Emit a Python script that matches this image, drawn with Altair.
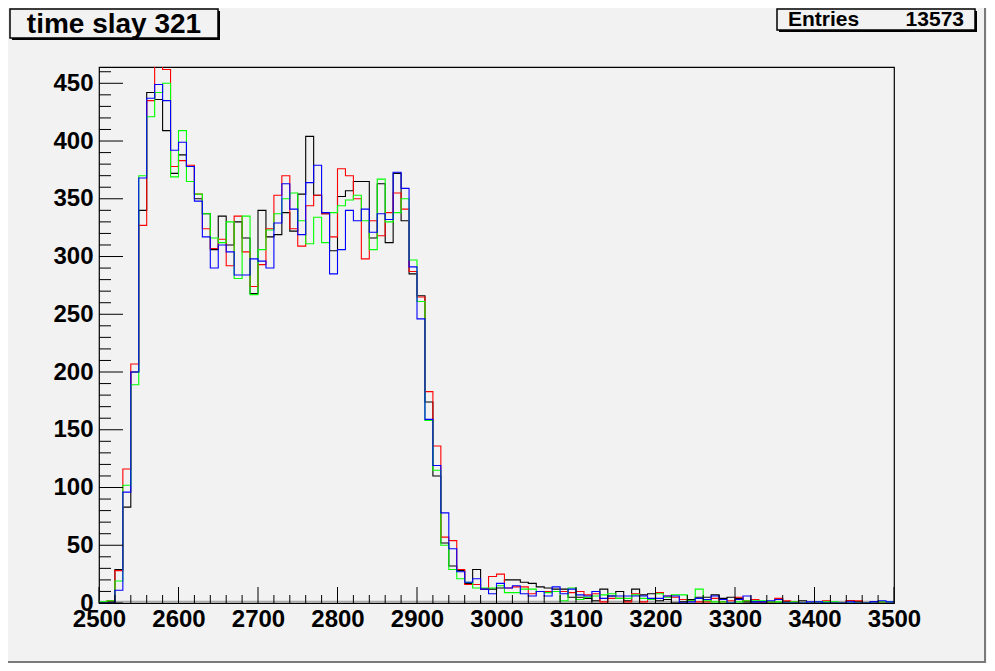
import altair as alt
import pandas as pd

# bin layout of the histograms (lower edge of first bin, bin width, number of bins)
x_start = 2500
bin_width = 10
n_bins = 100

black = [0, 1, 29, 83, 200, 340, 442, 436, 409, 372,
         388, 378, 350, 337, 306, 335, 310, 330, 316, 268,
         340, 317, 319, 338, 322, 354, 404, 353, 337, 305,
         352, 357, 365, 365, 316, 363, 312, 372, 331, 285,
         266, 174, 110, 52, 32, 28, 17, 29, 12, 12,
         13, 20, 20, 18, 17, 14, 13, 12, 12, 5,
         5, 4, 2, 12, 6, 10, 2, 12, 7, 8,
         2, 3, 0, 1, 3, 5, 5, 7, 4, 5,
         4, 1, 1, 1, 1, 0, 1, 0, 2, 0,
         0, 0, 0, 0, 2, 1, 0, 1, 0, 0]

red = [0, 2, 28, 116, 207, 327, 435, 475, 462, 378,
       383, 379, 354, 324, 307, 315, 292, 335, 304, 274,
       293, 324, 353, 370, 324, 309, 344, 353, 337, 317,
       376, 370, 350, 298, 331, 318, 338, 355, 341, 287,
       265, 183, 136, 57, 54, 29, 16, 16, 12, 23,
       25, 13, 14, 14, 8, 10, 10, 10, 10, 9,
       10, 7, 8, 1, 4, 4, 1, 8, 1, 3,
       9, 6, 5, 3, 2, 1, 1, 4, 1, 2,
       5, 2, 3, 0, 1, 4, 2, 1, 0, 0,
       0, 2, 0, 0, 2, 2, 0, 0, 1, 0]

green = [1, 2, 19, 102, 189, 370, 421, 442, 450, 369,
         409, 365, 354, 337, 316, 312, 330, 281, 335, 267,
         306, 323, 337, 350, 355, 331, 311, 334, 312, 338,
         344, 349, 353, 331, 306, 367, 330, 338, 350, 297,
         261, 158, 115, 50, 29, 21, 18, 13, 13, 13,
         15, 9, 9, 12, 12, 10, 9, 10, 2, 13,
         3, 5, 6, 7, 8, 4, 4, 7, 4, 3,
         8, 5, 7, 7, 2, 12, 2, 1, 1, 0,
         1, 2, 2, 2, 1, 1, 0, 1, 0, 0,
         1, 1, 1, 0, 0, 0, 0, 0, 1, 1]

blue = [0, 0, 11, 96, 200, 368, 437, 449, 435, 392,
        399, 378, 348, 317, 290, 310, 304, 284, 284, 298,
        296, 290, 329, 363, 341, 319, 364, 379, 338, 285,
        306, 340, 331, 341, 321, 337, 332, 373, 359, 291,
        246, 159, 119, 78, 47, 27, 18, 21, 12, 8,
        17, 13, 15, 8, 6, 10, 6, 14, 8, 12,
        7, 6, 10, 4, 6, 6, 6, 6, 6, 4,
        4, 6, 6, 0, 1, 4, 3, 6, 3, 0,
        3, 6, 1, 1, 2, 3, 0, 0, 0, 1,
        1, 0, 0, 0, 1, 0, 0, 1, 2, 1]

series = [("black", black, "#000000"), ("red", red, "#ff0000"),
          ("green", green, "#00ff00"), ("blue", blue, "#0000ff")]

x_domain = [2500, 3500]
y_domain = [0, 464.1]
x_major = [2500, 2600, 2700, 2800, 2900, 3000, 3100, 3200, 3300, 3400, 3500]
x_minor = [v for v in range(2500, 3501, 20) if v % 100 != 0]
y_major = [0, 50, 100, 150, 200, 250, 300, 350, 400, 450]
y_minor = [v for v in range(0, 461, 10) if v % 50 != 0]

title_text = "time slay 321"
stats_label = "Entries"
stats_value = "13573"

W, H = 795, 536
BG = "#f2f2f2"
FONT = "Liberation Sans"

xs = alt.Scale(domain=x_domain, nice=False, zero=False)
ys = alt.Scale(domain=y_domain, nice=False, zero=False)

x_axis = alt.Axis(values=x_major, ticks=False, domain=False, grid=False, title=None,
                  labelFont=FONT, labelFontSize=24, labelFontWeight="bold", labelColor="black",
                  labelPadding=4, labelFlush=False, labelOverlap=False, format="d")
y_axis = alt.Axis(values=y_major, ticks=False, domain=False, grid=False, title=None,
                  labelFont=FONT, labelFontSize=24, labelFontWeight="bold", labelColor="black",
                  labelPadding=6, labelFlush=False, labelOverlap=False, format="d")

edges = [x_start + bin_width * i for i in range(n_bins + 1)]

layers = []
one = pd.DataFrame({"a": [0]})

# gray line just above the bottom frame
layers.append(alt.Chart(one).mark_rule(color="#a8a8a8", strokeWidth=1.5).encode(
    x=alt.value(0), x2=alt.value(W), y=alt.value(H - 1.5)))

for name, vals, col in series:
    df = pd.DataFrame({"x": edges, "y": vals + [vals[-1]]})
    layers.append(alt.Chart(df).mark_line(interpolate="step-after", color=col,
                                          strokeWidth=1.1, clip=True)
                  .encode(x=alt.X("x:Q", scale=xs, axis=x_axis),
                          y=alt.Y("y:Q", scale=ys, axis=y_axis)))

# inward ticks
layers.append(alt.Chart(pd.DataFrame({"x": x_major})).mark_rule(color="black", strokeWidth=1).encode(
    x=alt.X("x:Q", scale=xs, axis=x_axis), y=alt.value(H), y2=alt.value(H - 16)))
layers.append(alt.Chart(pd.DataFrame({"x": x_minor})).mark_rule(color="black", strokeWidth=1).encode(
    x=alt.X("x:Q", scale=xs, axis=x_axis), y=alt.value(H), y2=alt.value(H - 8)))
layers.append(alt.Chart(pd.DataFrame({"y": y_major})).mark_rule(color="black", strokeWidth=1).encode(
    y=alt.Y("y:Q", scale=ys, axis=y_axis), x=alt.value(0), x2=alt.value(24)))
layers.append(alt.Chart(pd.DataFrame({"y": y_minor})).mark_rule(color="black", strokeWidth=1).encode(
    y=alt.Y("y:Q", scale=ys, axis=y_axis), x=alt.value(0), x2=alt.value(12)))

# title box with shadow
layers.append(alt.Chart(one).mark_rect(color="black").encode(
    x=alt.value(-87), x2=alt.value(121), y=alt.value(-56), y2=alt.value(-27)))
layers.append(alt.Chart(one).mark_rect(fill=BG, stroke="black", strokeWidth=1.5).encode(
    x=alt.value(-89), x2=alt.value(119), y=alt.value(-58), y2=alt.value(-29)))
layers.append(alt.Chart(one).mark_text(text=title_text, font=FONT, fontWeight="bold",
                                       fontSize=28, align="center", baseline="alphabetic",
                                       color="black").encode(
    x=alt.value(15), y=alt.value(-34)))

# stats box with shadow
layers.append(alt.Chart(one).mark_rect(color="black").encode(
    x=alt.value(680), x2=alt.value(878), y=alt.value(-56), y2=alt.value(-35)))
layers.append(alt.Chart(one).mark_rect(fill=BG, stroke="black", strokeWidth=1.5).encode(
    x=alt.value(678), x2=alt.value(876), y=alt.value(-58), y2=alt.value(-37)))
layers.append(alt.Chart(one).mark_text(text=stats_label, font=FONT, fontWeight="bold",
                                       fontSize=21, align="left", baseline="alphabetic",
                                       color="black").encode(
    x=alt.value(689), y=alt.value(-41)))
layers.append(alt.Chart(one).mark_text(text=stats_value, font=FONT, fontWeight="bold",
                                       fontSize=21, align="right", baseline="alphabetic",
                                       color="black").encode(
    x=alt.value(865), y=alt.value(-41)))

# canvas border (right / bottom bevel)
layers.append(alt.Chart(one).mark_rule(color="#7a7a7a", strokeWidth=2).encode(
    x=alt.value(886), y=alt.value(-59), y2=alt.value(596)))
layers.append(alt.Chart(one).mark_rule(color="#7a7a7a", strokeWidth=2).encode(
    x=alt.value(-91), x2=alt.value(887), y=alt.value(595)))

chart = alt.layer(*layers).properties(
    width=W, height=H,
    background=BG,
    padding={"left": 91, "top": 59, "right": 93, "bottom": 60},
    autosize=alt.AutoSizeParams(type="none"),
).configure_view(stroke="black", strokeWidth=1.2, fill=BG)

chart.save("out.html", embed_options={"renderer": "svg", "actions": False})
